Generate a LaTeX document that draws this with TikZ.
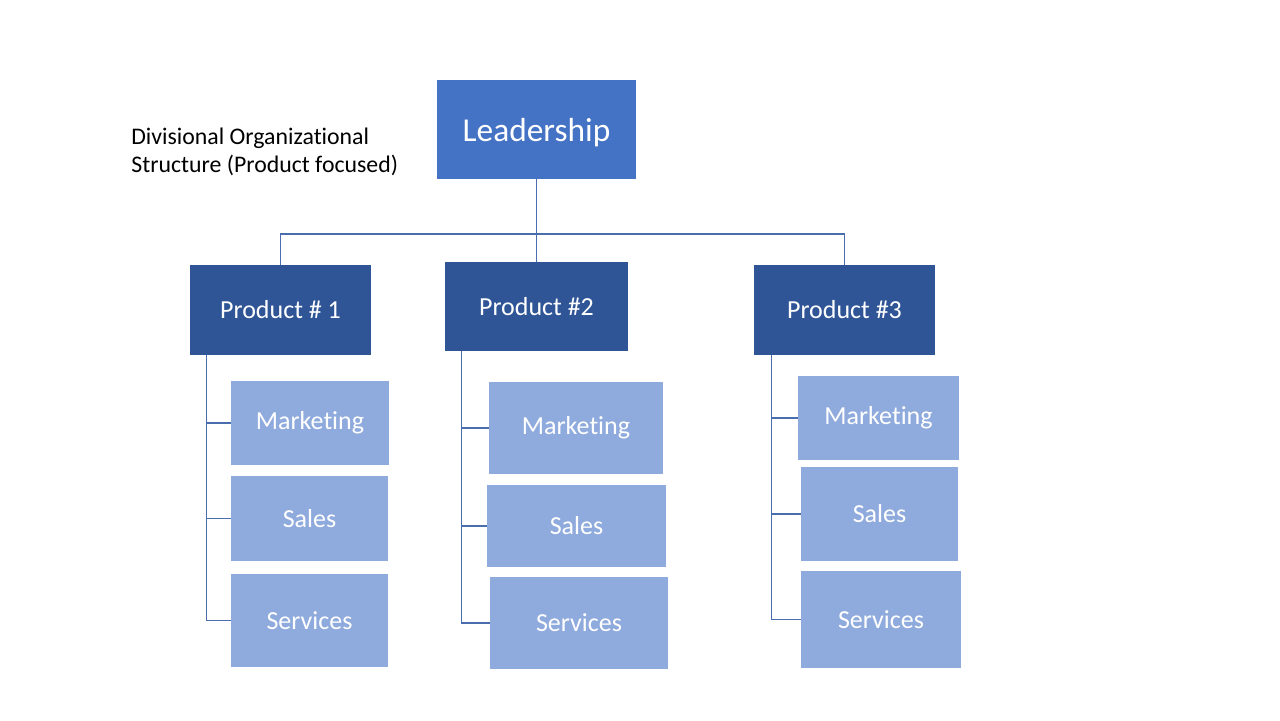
\documentclass[tikz,border=0pt]{standalone}
\usepackage{fontspec}
\setmainfont{Carlito}[Ligatures=NoCommon]
\usepackage{tikz}
\usetikzlibrary{positioning}
\definecolor{LeadBlue}{HTML}{4472C4}
\definecolor{ProdBlue}{HTML}{2F5597}
\definecolor{DeptBlue}{HTML}{8FAADC}
\definecolor{WireBlue}{HTML}{4A6DAE}
\tikzset{
    boxsize/.style 2 args={minimum width=#1cm, minimum height=#2cm},
    lead/.style={fill=LeadBlue, text=white, inner sep=0pt, text depth=0pt, font=\fontsize{19}{22}\selectfont},
    prod/.style={fill=ProdBlue, text=white, inner sep=0pt, font=\fontsize{14.8}{17}\selectfont},
    dept/.style={fill=DeptBlue, text=white, inner sep=0pt, font=\fontsize{14.8}{17}\selectfont},
    wire/.style={WireBlue, line width=0.6pt}
}

\begin{document}
\begin{tikzpicture}[x=0.02cm, y=-0.02cm]
    \useasboundingbox (0,0) rectangle (1280,720);

%   title
    \node[anchor=west, inner sep=0pt, align=left, font=\fontsize{13.55}{15.9}\selectfont] (title) at (131,152)
        {Divisional Organizational\\Structure (Product focused)};

%   top
    \node[lead, boxsize={3.98}{1.98}] (lead) at (536.5,129.5) {Leadership};

%   products
    \node[prod, boxsize={3.62}{1.80}] (prodA) at (280.5,310) {Product \# 1};
    \node[prod, boxsize={3.68}{1.78}] (prodB) at (536.5,306.5) {Product \#2};
    \node[prod, boxsize={3.62}{1.80}] (prodC) at (844.5,310) {Product \#3};

%   departments under product 1
    \node[dept, boxsize={3.16}{1.68}] (mktA) at (310,423) {Marketing};
    \node[dept, boxsize={3.14}{1.70}] (salA) at (309.5,518.5) {Sales};
    \node[dept, boxsize={3.14}{1.86}] (srvA) at (309.5,620.5) {Services};

%   departments under product 2
    \node[dept, boxsize={3.48}{1.84}] (mktB) at (576,428) {Marketing};
    \node[dept, boxsize={3.58}{1.64}] (salB) at (576.5,526) {Sales};
    \node[dept, boxsize={3.56}{1.84}] (srvB) at (579,623) {Services};

%   departments under product 3
    \node[dept, boxsize={3.22}{1.68}] (mktC) at (878.5,418) {Marketing};
    \node[dept, boxsize={3.14}{1.88}] (salC) at (879.5,514) {Sales};
    \node[dept, boxsize={3.20}{1.94}] (srvC) at (881,619.5) {Services};

%   leadership to products
    \coordinate (bus) at (536.5,234);
    \draw[wire] (lead.south) -- (lead.south |- prodB.north);
    \draw[wire] (prodA.north) |- (bus) -| (prodC.north);

%   products to departments
    \coordinate (spineA) at ([xshift=0.34cm]prodA.south west);
    \coordinate (spineB) at ([xshift=0.34cm]prodB.south west);
    \coordinate (spineC) at ([xshift=0.36cm]prodC.south west);

    \draw[wire] (spineA) |- (srvA.west);
    \draw[wire] (spineA |- mktA.west) -- (mktA.west);
    \draw[wire] (spineA |- salA.west) -- (salA.west);

    \draw[wire] (spineB) |- (srvB.west);
    \draw[wire] (spineB |- mktB.west) -- (mktB.west);
    \draw[wire] (spineB |- salB.west) -- (salB.west);

    \draw[wire] (spineC) |- (srvC.west);
    \draw[wire] (spineC |- mktC.west) -- (mktC.west);
    \draw[wire] (spineC |- salC.west) -- (salC.west);

\end{tikzpicture}
\end{document}
